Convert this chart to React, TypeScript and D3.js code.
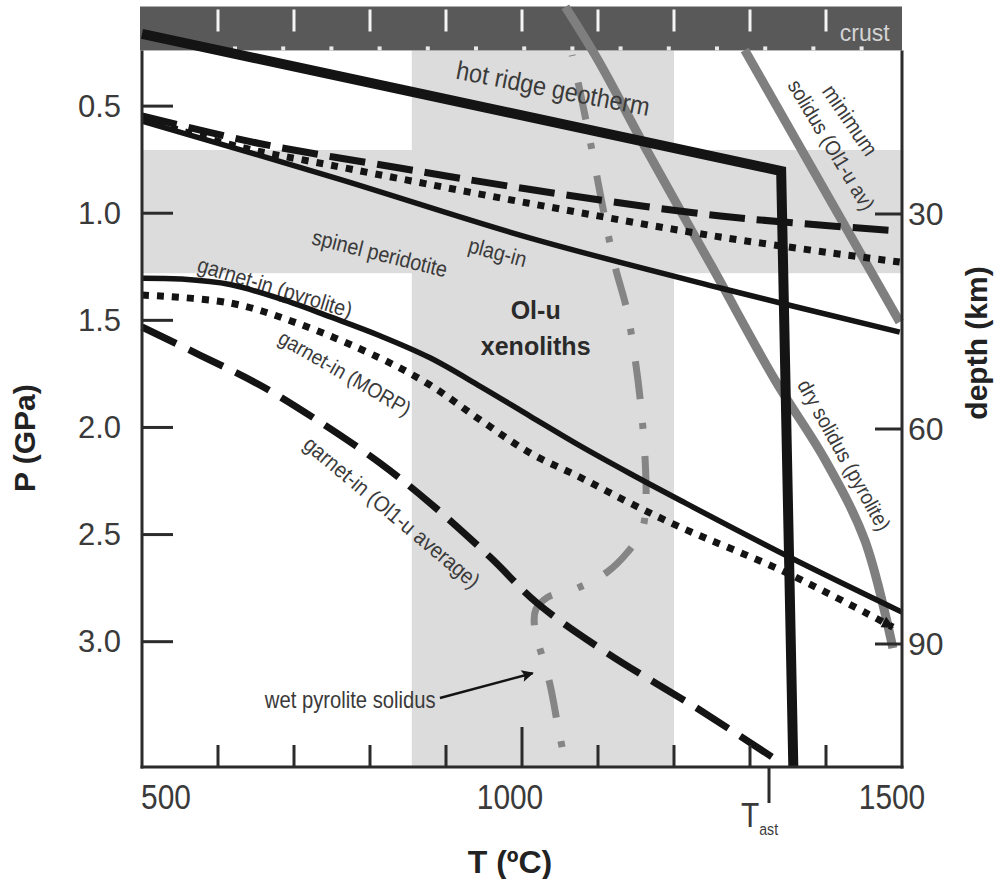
import React from "react";
import * as d3 from "d3";

const W = 1002;
const H = 879;

// Axis ticks
const pressureTicks = [0.5, 1.0, 1.5, 2.0, 2.5, 3.0];
const depthTicks = [30, 60, 90];
const tempTicks = [600, 700, 800, 900, 1000, 1100, 1200, 1300, 1400];
const tempLabels = [500, 1000, 1500];
const T_AST = 1325;

// Shaded fields
const crustBase = 0.24; // GPa
const spinelField = [0.705, 1.28]; // GPa
const xenolithField = [855, 1200]; // °C

// Curves as [T (°C), P (GPa)]
const hotRidgeGeotherm = [[500, 0.163], [1341, 0.803], [1357, 3.585]];

const plagInOl1u = [[500, 0.546], [651, 0.672], [839, 0.789], [1007, 0.887], [1261, 1.013], [1497, 1.083]];
const plagInMORP = [[500, 0.56], [629, 0.691], [747, 0.775], [1007, 0.952], [1261, 1.111], [1497, 1.228]];
const plagInPyrolite = [[500, 0.57], [755, 0.836], [1011, 1.116], [1261, 1.349], [1497, 1.555]];

const garnetInPyrolite = [
  [500, 1.303], [550, 1.307], [616, 1.333], [695, 1.415], [747, 1.483], [813, 1.572],
  [879, 1.675], [945, 1.808], [1011, 1.948], [1076, 2.085], [1142, 2.215],
  [1208, 2.34], [1349, 2.6], [1500, 2.862],
];
const garnetInMORP = [
  [500, 1.382], [616, 1.419], [704, 1.513], [813, 1.676], [879, 1.802], [945, 1.965],
  [1011, 2.12], [1076, 2.232], [1142, 2.353], [1208, 2.465], [1349, 2.68], [1488, 2.932],
];
const garnetInOl1u = [
  [500, 1.531], [576, 1.662], [655, 1.802], [730, 1.965], [813, 2.166], [879, 2.353],
  [958, 2.605], [1020, 2.82], [1112, 3.053], [1234, 3.319], [1337, 3.557],
];

const drySolidusPyrolite = [
  [1057, 0.037], [1100, 0.285], [1164, 0.705], [1251, 1.256], [1333, 1.779],
  [1399, 2.152], [1451, 2.526], [1488, 3.03],
];
const minSolidusOl1u = [[1293, 0.238], [1497, 1.508]];

const wetSolidusPyrolite = [
  [1066, 0.261], [1076, 0.425], [1092, 0.705], [1107, 0.985], [1122, 1.242],
  [1138, 1.452], [1149, 1.685], [1157, 1.919], [1162, 2.152], [1163, 2.339],
  [1158, 2.479], [1139, 2.582], [1112, 2.675], [1070, 2.754], [1034, 2.792],
  [1018, 2.852], [1017, 2.946], [1026, 3.062], [1037, 3.202], [1047, 3.389], [1058, 3.585],
];

// Annotations anchored in (T, P)
const curveLabels = [
  { text: "hot ridge geotherm", T: 1041, P: 0.418, angle: 11 },
  { text: "spinel peridotite", T: 813, P: 1.186, angle: 14 },
  { text: "plag-in", T: 968, P: 1.181, angle: 15 },
  { text: "garnet-in (pyrolite)", T: 675, P: 1.345, angle: 17 },
  { text: "garnet-in (MORP)", T: 767, P: 1.746, angle: 30 },
  { text: "garnet-in (Ol1-u average)", T: 829, P: 2.395, angle: 40 },
  { text: "dry solidus (pyrolite)", T: 1424, P: 2.129, angle: 61 },
  { text: "minimum", T: 1432, P: 0.565, angle: 56 },
  { text: "solidus (Ol1-u av)", T: 1407, P: 0.681, angle: 59 },
];
const labelSizes = [26, 22, 22, 22, 21, 22, 21, 22, 21];
const fieldLabel = [
  { text: "Ol-u", T: 1018, P: 1.452 },
  { text: "xenoliths", T: 1018, P: 1.62 },
];
const wetLabel = { text: "wet pyrolite solidus", T: 774, P: 3.273 };
const wetArrow = [[892, 3.263], [1014, 3.147]];
const crustLabel = { text: "crust", T: 1451, P: 0.159 };

const FONT = "'Liberation Sans', Arial, Helvetica, sans-serif";
const INK = "#141414";
const TEXT = "#3a3a3a";
const GRAY_LINE = "#7f7f7f";
const FIELD = "#dcdcdc";

export default function App() {
  const x = d3.scaleLinear().domain([500, 1500]).range([142, 902]);
  const y = d3.scaleLinear().domain([0.035, 3.585]).range([6.5, 767]);
  const depth = d3.scaleLinear().domain([0, 90]).range([-1, 644]);

  const smooth = d3
    .line<number[]>()
    .x((d) => x(d[0]))
    .y((d) => y(d[1]))
    .curve(d3.curveCatmullRom.alpha(0.5));
  const straight = d3
    .line<number[]>()
    .x((d) => x(d[0]))
    .y((d) => y(d[1]));

  const x0 = x(500);
  const x1 = x(1500);
  const yTop = y(0.035);
  const yCrust = y(crustBase);
  const yBot = y(3.585);

  // small white marks along the base of the crust band
  const crustMarks = d3.range(235, 900, 48.2);

  return (
    <svg
      width={W}
      height={H}
      style={{ position: "absolute", left: 0, top: 0, background: "#fff" }}
      fontFamily={FONT}
    >
      <defs>
        <marker id="arrowBlack" viewBox="0 0 10 10" refX="9" refY="5" markerWidth="14" markerHeight="12" markerUnits="userSpaceOnUse" orient="auto">
          <path d="M0,0 L10,5 L0,10 z" fill={INK} />
        </marker>
        <marker id="arrowSmall" viewBox="0 0 10 10" refX="9" refY="5" markerWidth="16" markerHeight="12" markerUnits="userSpaceOnUse" orient="auto">
          <path d="M0,0 L10,5 L0,10 L2,5 z" fill={INK} />
        </marker>
      </defs>

      {/* shaded fields */}
      <rect x={x(xenolithField[0])} y={yCrust} width={x(xenolithField[1]) - x(xenolithField[0])} height={yBot - yCrust} fill={FIELD} />
      <rect x={x0} y={y(spinelField[0])} width={x1 - x0} height={y(spinelField[1]) - y(spinelField[0])} fill={FIELD} />

      {/* crust band */}
      <rect x={x0 - 2} y={yTop} width={x1 - x0 + 2} height={yCrust - yTop} fill="#595959" />
      {tempTicks.map((t) => (
        <line key={"ct" + t} x1={x(t)} x2={x(t)} y1={yTop + 3} y2={yTop + 25} stroke="#f4f4f4" strokeWidth={3} />
      ))}
      {crustMarks.map((m, i) => (
        <rect key={"cm" + i} x={m - 2} y={yCrust - 4} width={4} height={4} fill="#e8e8e8" />
      ))}
      <text x={x(crustLabel.T)} y={y(crustLabel.P)} fontSize={23} fill="#d4d4d4" textAnchor="middle" dominantBaseline="central">
        {crustLabel.text}
      </text>

      {/* solidus curves */}
      <path d={smooth(drySolidusPyrolite) || ""} fill="none" stroke={GRAY_LINE} strokeWidth={9} />
      <path d={straight(minSolidusOl1u) || ""} fill="none" stroke={GRAY_LINE} strokeWidth={9} />
      <path
        d={smooth(wetSolidusPyrolite) || ""}
        fill="none"
        stroke="#858585"
        strokeWidth={7}
        strokeDasharray="38 24 6 27"
        strokeDashoffset={-28}
      />

      {/* curve labels */}
      {curveLabels.map((l, i) => (
        <text
          key={l.text}
          transform={`translate(${x(l.T)},${y(l.P)}) rotate(${l.angle}) scale(0.9,1)`}
          fontSize={labelSizes[i]}
          fill={TEXT}
          textAnchor="middle"
          dominantBaseline="central"
        >
          {l.text}
        </text>
      ))}
      {fieldLabel.map((l) => (
        <text key={l.text} x={x(l.T)} y={y(l.P)} fontSize={25} fontWeight="bold" fill="#2a2a2a" textAnchor="middle" dominantBaseline="central">
          {l.text}
        </text>
      ))}
      <text
        transform={`translate(${x(wetLabel.T)},${y(wetLabel.P)}) scale(0.88,1)`}
        fontSize={23}
        fill={TEXT}
        textAnchor="middle"
        dominantBaseline="central"
      >
        {wetLabel.text}
      </text>

      {/* phase boundaries */}
      <path d={smooth(plagInOl1u) || ""} fill="none" stroke={INK} strokeWidth={7} strokeDasharray="36 12" />
      <path d={smooth(plagInMORP) || ""} fill="none" stroke={INK} strokeWidth={7} strokeDasharray="7 8" />
      <path d={smooth(plagInPyrolite) || ""} fill="none" stroke={INK} strokeWidth={5.5} />
      <path d={smooth(garnetInPyrolite) || ""} fill="none" stroke={INK} strokeWidth={5.5} />
      <path d={smooth(garnetInMORP) || ""} fill="none" stroke={INK} strokeWidth={7} strokeDasharray="7 8" markerEnd="url(#arrowBlack)" />
      <path d={smooth(garnetInOl1u) || ""} fill="none" stroke={INK} strokeWidth={7} strokeDasharray="38 14" />

      {/* geotherm */}
      <path d={straight(hotRidgeGeotherm) || ""} fill="none" stroke={INK} strokeWidth={10} strokeLinejoin="miter" />

      {/* leader arrow */}
      <path d={straight(wetArrow) || ""} fill="none" stroke={INK} strokeWidth={2.5} markerEnd="url(#arrowSmall)" />

      {/* frame */}
      <line x1={x0} x2={x0} y1={yCrust} y2={yBot + 1.5} stroke="#2b2b2b" strokeWidth={3} />
      <line x1={x1} x2={x1} y1={yCrust} y2={yBot + 1.5} stroke="#2b2b2b" strokeWidth={3} />
      <line x1={x0 - 1.5} x2={x1 + 1.5} y1={yBot} y2={yBot} stroke="#2b2b2b" strokeWidth={3} />

      {/* pressure axis */}
      {pressureTicks.map((p) => (
        <g key={"p" + p}>
          <line x1={x0} x2={x0 + 31} y1={y(p)} y2={y(p)} stroke="#2b2b2b" strokeWidth={3} />
          <text x={121} y={y(p)} fontSize={31} fill={TEXT} textAnchor="end" dominantBaseline="central">
            {p.toFixed(1)}
          </text>
        </g>
      ))}
      <text transform={`translate(24,${y(2.05)}) rotate(-90)`} fontSize={30} fontWeight="bold" fill="#222" textAnchor="middle" dominantBaseline="central">
        P (GPa)
      </text>

      {/* depth axis */}
      {depthTicks.map((d) => (
        <g key={"d" + d}>
          <line x1={x1 - 27} x2={x1} y1={depth(d)} y2={depth(d)} stroke="#2b2b2b" strokeWidth={3} />
          <text x={908} y={depth(d)} fontSize={32} fill={TEXT} textAnchor="start" dominantBaseline="central">
            {d}
          </text>
        </g>
      ))}
      <text transform={`translate(976,${depth(48)}) rotate(-90)`} fontSize={30} fontWeight="bold" fill="#222" textAnchor="middle" dominantBaseline="central">
        depth (km)
      </text>

      {/* temperature axis */}
      {tempTicks.map((t) => (
        <line key={"t" + t} x1={x(t)} x2={x(t)} y1={yBot} y2={yBot - (t === 1000 ? 40 : 22)} stroke="#2b2b2b" strokeWidth={3} />
      ))}
      {tempLabels.map((t, i) => (
        <text
          key={"tl" + t}
          transform={`translate(${x(t) + [24, -12, -10][i]},${yBot + 42}) scale(0.83,1)`}
          fontSize={36}
          fill={TEXT}
          textAnchor="middle"
        >
          {t}
        </text>
      ))}
      <line x1={x(T_AST)} x2={x(T_AST)} y1={yBot} y2={yBot + 36} stroke="#2b2b2b" strokeWidth={3} />
      <g transform={`translate(${x(T_AST) - 28},${yBot + 60}) scale(0.83,1)`}>
        <text fontSize={36} fill={TEXT}>
          T
          <tspan fontSize={17} dy={8}>ast</tspan>
        </text>
      </g>
      <text x={510} y={873} fontSize={32} fontWeight="bold" fill="#222" textAnchor="middle">
        T (ºC)
      </text>
    </svg>
  );
}
